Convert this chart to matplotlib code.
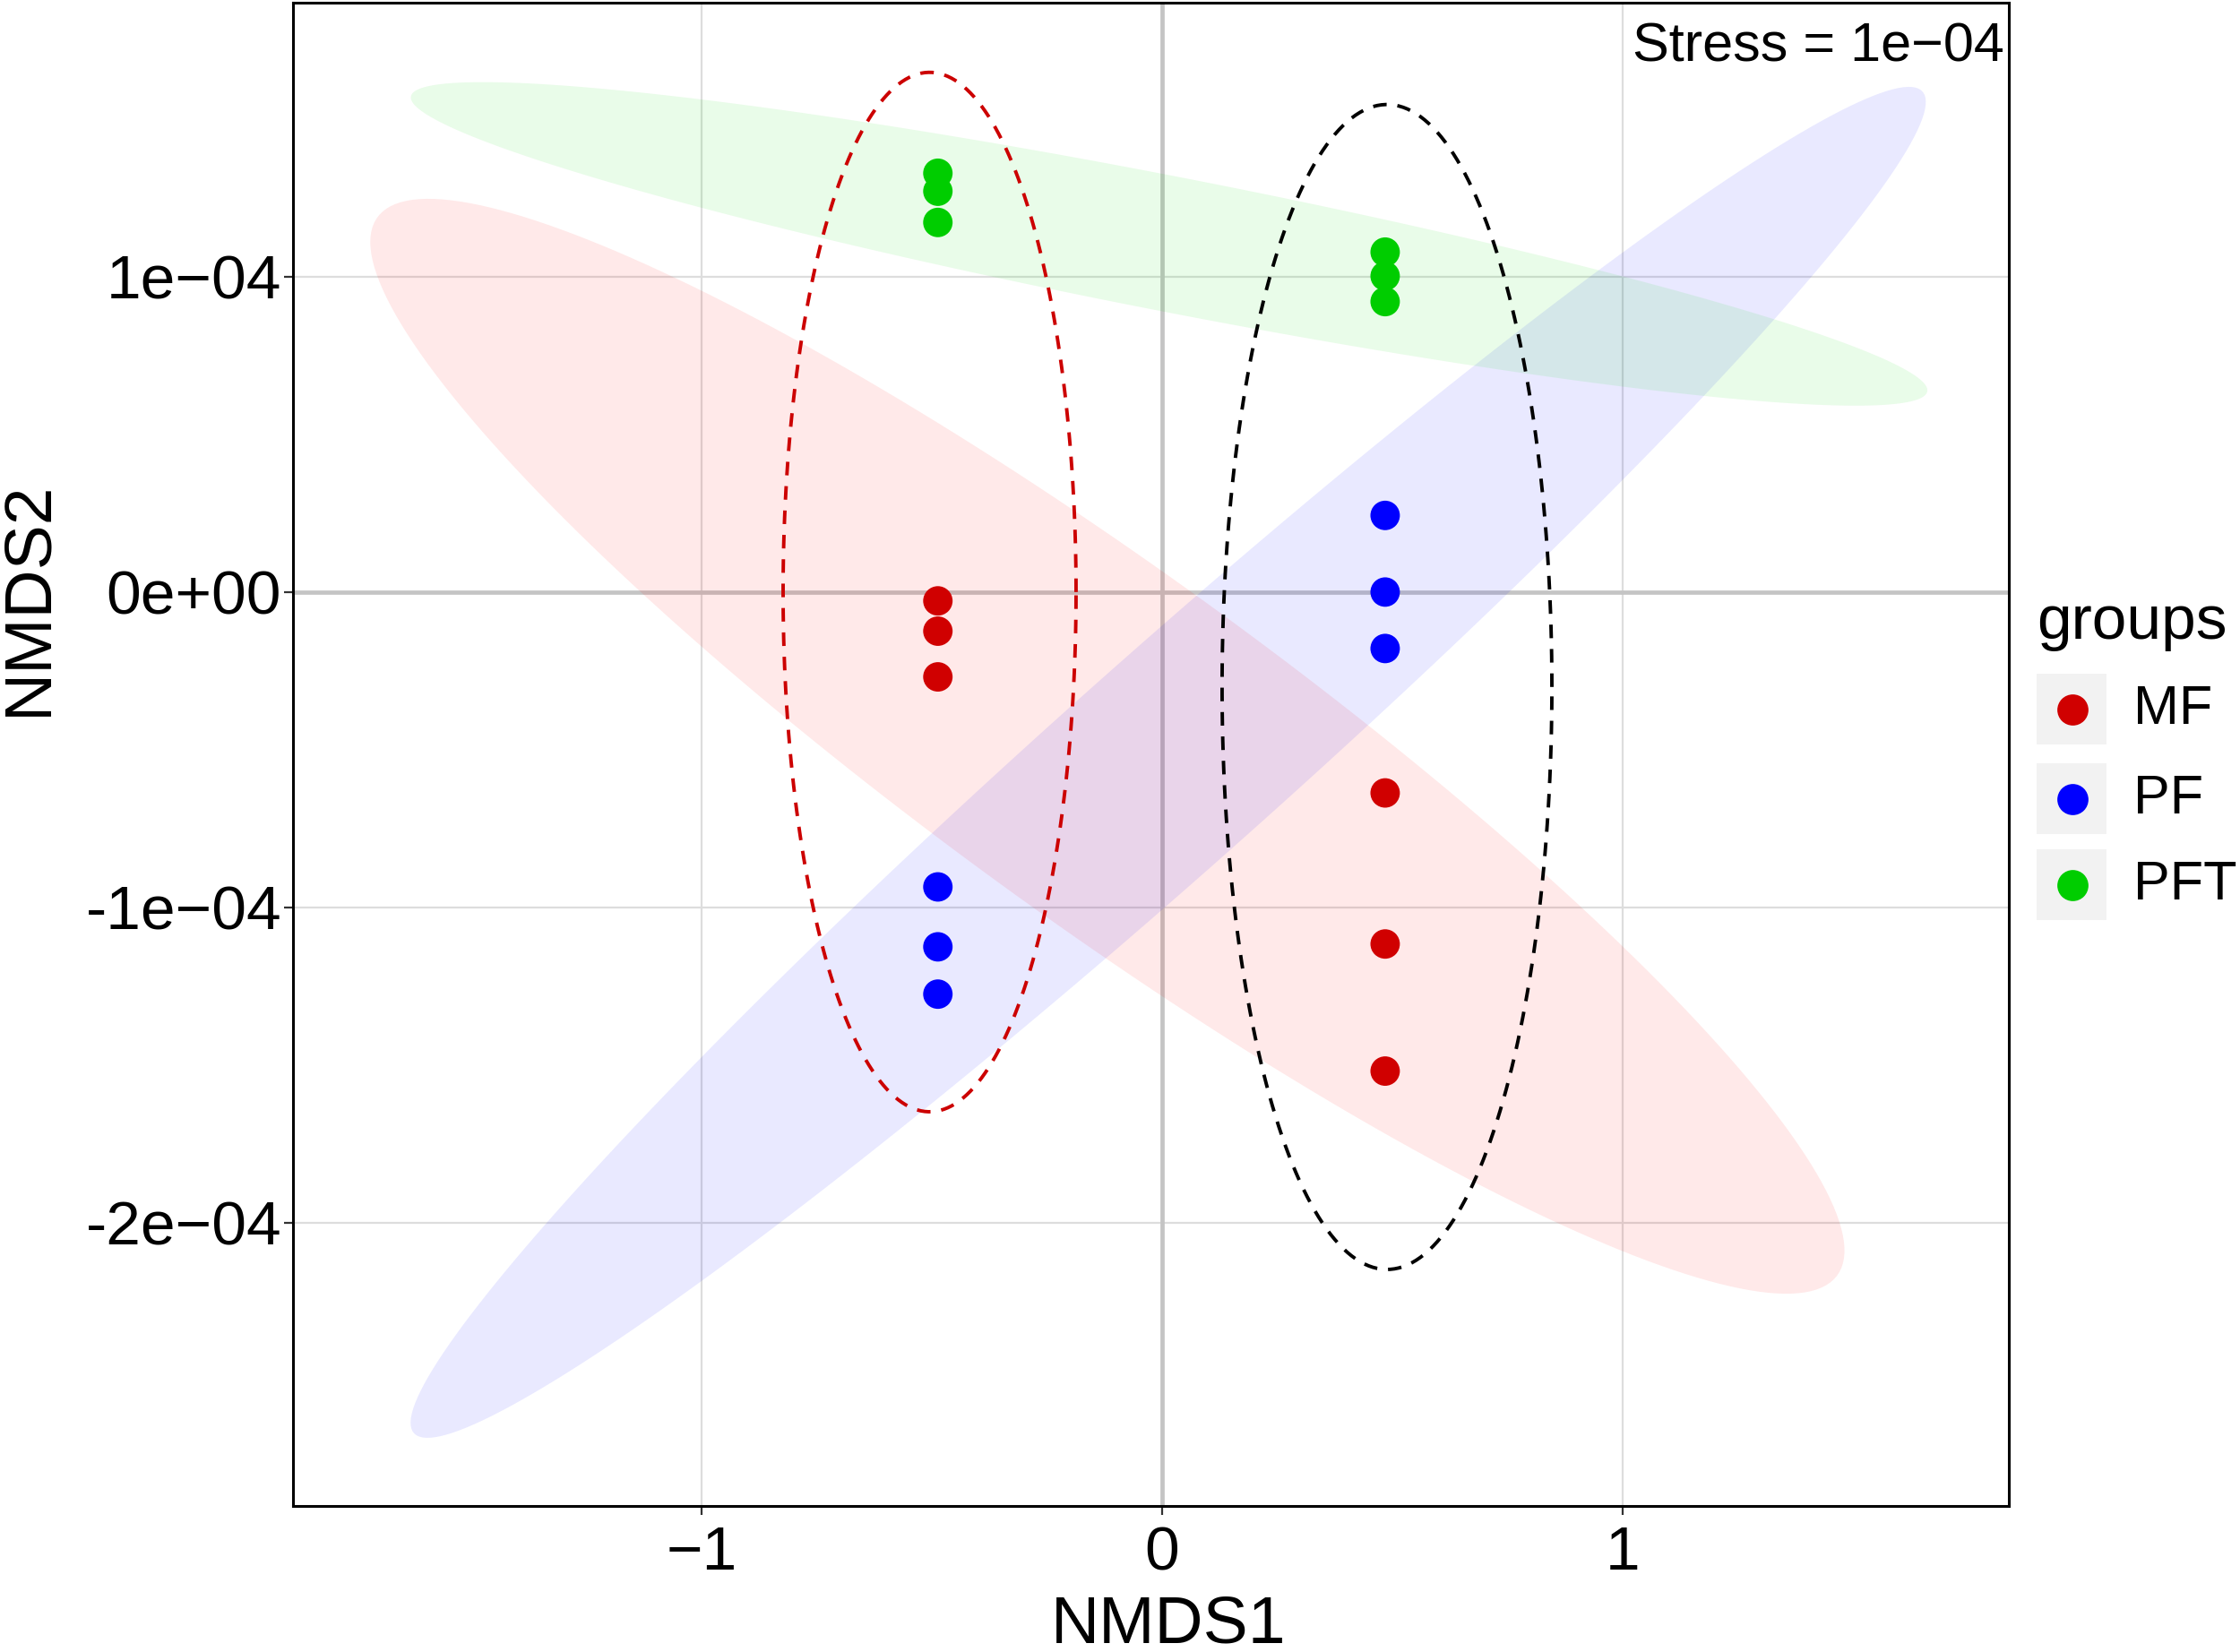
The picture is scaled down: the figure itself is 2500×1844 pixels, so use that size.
import numpy as np
import matplotlib
matplotlib.use("Agg")
import matplotlib.pyplot as plt
from matplotlib.patches import Rectangle

plt.rcParams['font.family'] = ['Liberation Sans', 'DejaVu Sans']

# ---------- data ----------
groups = ["MF", "PF", "PFT"]
point_colors = ["#D00000", "#0000FF", "#00CD00"]
fill_colors = ["#FF0000", "#0000FF", "#00DD00"]

# two sampling sites per group, three samples each
nmds1 = [-0.487, -0.487, -0.487, 0.484, 0.484, 0.484]
nmds2_mf = np.array([-0.028, -0.124, -0.269, -0.637, -1.116, -1.519]) * 1e-4
nmds2_pf = np.array([-0.935, -1.125, -1.275, 0.243, 0.0, -0.179]) * 1e-4
nmds2_pft = np.array([1.328, 1.271, 1.172, 1.078, 1.002, 0.921]) * 1e-4
nmds2_by_group = [nmds2_mf, nmds2_pf, nmds2_pft]

# group ellipses: centre, half width at centre, x shift of top point, half height
ell_cx = [-0.119, 0.013, 0.015]
ell_cy = np.array([-0.489, -0.54, 1.104]) * 1e-4
ell_hw = [0.623, 0.346, 0.70]
ell_tdx = [-1.474, 1.608, -1.49]
ell_hh = np.array([1.736, 2.142, 0.513]) * 1e-4

# site ellipses (dashed outlines)
site_cx = [-0.505, 0.488]
site_cy = np.array([0.0, -0.301]) * 1e-4
site_hw = [0.318, 0.358]
site_hh = np.array([1.648, 1.847]) * 1e-4
site_colors = ["#CC0000", "black"]

x_ticks = [-1, 0, 1]
x_labels = ["\u22121", "0", "1"]
y_ticks = np.array([-2, -1, 0, 1]) * 1e-4
y_labels = ["-2e\u221204", "-1e\u221204", "0e+00", "1e\u221204"]
stress_label = "Stress = 1e\u221204"


def ellipse_xy(cx, cy, hw, tdx, hh, n=240):
    t = np.linspace(0, 2 * np.pi, n)
    return cx + hw * np.cos(t) + tdx * np.sin(t), cy + hh * np.sin(t)


# ---------- figure ----------
fig = plt.figure(figsize=(12.5, 9.22), dpi=200)
ax = fig.add_axes([0.1308, 0.0884, 0.766, 0.91])

ax.set_xlim(-1.887, 1.838)
ax.set_ylim(-2.898e-4, 1.869e-4)

# grid
for xv in x_ticks:
    if xv != 0:
        ax.axvline(xv, color="#DDDDDD", lw=0.8, zorder=0)
for yv in y_ticks:
    if yv != 0:
        ax.axhline(yv, color="#DDDDDD", lw=0.8, zorder=0)
ax.axvline(0, color="#C4C4C4", lw=1.7, zorder=0.5)
ax.axhline(0, color="#C4C4C4", lw=1.7, zorder=0.5)

# filled group ellipses
for i in range(len(groups)):
    ex, ey = ellipse_xy(ell_cx[i], ell_cy[i], ell_hw[i], ell_tdx[i], ell_hh[i])
    ax.fill(ex, ey, color=fill_colors[i], alpha=0.085, lw=0, zorder=1)

# dashed site ellipses
for j in range(len(site_cx)):
    ex, ey = ellipse_xy(site_cx[j], site_cy[j], site_hw[j], 0.0, site_hh[j])
    ax.plot(ex, ey, color=site_colors[j], lw=1.4, linestyle=(0, (3.9, 3.1)), zorder=2)

# points
for i in range(len(groups)):
    ax.scatter(nmds1, nmds2_by_group[i], s=140, color=point_colors[i],
               edgecolors="none", zorder=3)

# axes styling
ax.set_xticks(x_ticks)
ax.set_xticklabels(x_labels)
ax.set_yticks(y_ticks)
ax.set_yticklabels(y_labels)
ax.tick_params(axis="both", direction="out", length=3.6, width=0.8,
               color="#333333", labelsize=25, labelcolor="black")
ax.tick_params(axis="x", pad=4)
ax.tick_params(axis="y", pad=1)
for sp in ax.spines.values():
    sp.set_color("black")
    sp.set_linewidth(1.1)

ax.set_xlabel("NMDS1", fontsize=27)
ax.set_ylabel("NMDS2", fontsize=27)
ax.xaxis.set_label_coords(0.510, -0.0793)
ax.xaxis.label.set_verticalalignment("center")
ax.yaxis.set_label_coords(-0.154, 0.6036)
ax.yaxis.label.set_verticalalignment("center")

ax.text(0.9974, 0.970, stress_label, transform=ax.transAxes, ha="right", va="center",
        fontsize=22)

# legend drawn by hand (ggplot style keys)
fig.text(2273 / 2500, 1 - 695 / 1844, "groups", fontsize=25, ha="left", va="center")
key_y = [792, 892, 988]
for i, g in enumerate(groups):
    yc = 1 - key_y[i] / 1844
    fig.patches.append(Rectangle((2273 / 2500, yc - 39 / 1844), 78 / 2500, 79 / 1844,
                                 transform=fig.transFigure, facecolor="#F2F2F2",
                                 edgecolor="none"))
    fig.add_artist(plt.Line2D([2313 / 2500], [yc], marker="o", markersize=12.5,
                              color=point_colors[i], markeredgewidth=0,
                              transform=fig.transFigure))
    fig.text(2381 / 2500, yc, g, fontsize=22, ha="left", va="center")

fig.savefig("out.png", dpi=200)
